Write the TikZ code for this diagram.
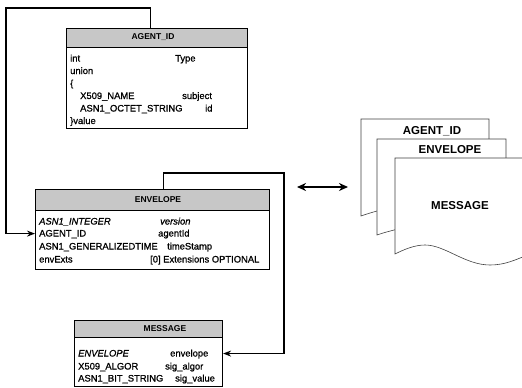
\documentclass[tikz,border=0pt]{standalone}
\usepackage{fontspec}
\setmainfont{Liberation Sans}
\newfontfamily\rowfont[FakeBold=0.9]{Liberation Sans}
\usetikzlibrary{arrows.meta,calc}
\begin{document}
\begin{tikzpicture}[x=1pt,y=-1pt,
  tbox/.style={draw, line width=1.1pt, anchor=north west, inner sep=0pt},
  thdr/.style={draw, line width=1.1pt, fill=black!22, anchor=north west, inner sep=0pt},
  htxt/.style={font=\fontsize{8.5}{9}\selectfont\bfseries, inner sep=0pt},
  row/.style={font=\fontsize{9.4}{10}\rowfont, inner sep=0pt, anchor=base west},
  conn/.style={line width=1.2pt, -{Stealth[length=8pt,width=6pt]}},
  sheet/.style={draw=black!75, line width=0.6pt, fill=white},
  stxt/.style={font=\fontsize{11.5}{12}\selectfont\bfseries, inner sep=0pt}]
\useasboundingbox (0,0) rectangle (522,388);

% ---- AGENT_ID structure ----
\node[tbox, minimum width=181pt, minimum height=100pt] (agent) at (66,28) {};
\node[thdr, minimum width=181pt, minimum height=19pt] (agenthdr) at (66,28) {};
\node[htxt] (agentttl) at (153,37.5) {AGENT\_ID};
\node[row] (a1) at (70,61.5) {int};
\node[row] (a1b) at (175,61.5) {Type};
\node[row] (a2) at (70,74) {union};
\node[row] (a3) at (70,86.5) {\{};
\node[row] (a4) at (80,99) {X509\_NAME};
\node[row] (a4b) at (182,99) {subject};
\node[row] (a5) at (80,111.5) {ASN1\_OCTET\_STRING};
\node[row] (a5b) at (205,111.5) {id};
\node[row] (a6) at (70,124) {\}value};

% ---- ENVELOPE structure ----
\node[tbox, minimum width=234pt, minimum height=80pt] (env) at (35,189) {};
\node[thdr, minimum width=234pt, minimum height=21pt] (envhdr) at (35,189) {};
\node[htxt] (envttl) at (158,199.5) {ENVELOPE};
\node[row] (e1) at (39,224.5) {\itshape ASN1\_INTEGER};
\node[row] (e1b) at (160,224.5) {\itshape version};
\node[row] (e2) at (39,236.5) {AGENT\_ID};
\node[row] (e2b) at (158,236.5) {agentId};
\node[row] (e3) at (39,249.5) {ASN1\_GENERALIZEDTIME};
\node[row] (e3b) at (167,249.5) {timeStamp};
\node[row] (e4) at (39,262.5) {envExts};
\node[row] (e4b) at (150,262.5) {[0] Extensions OPTIONAL};

% ---- MESSAGE structure ----
\node[tbox, minimum width=148pt, minimum height=66pt] (msg) at (74,320) {};
\node[thdr, minimum width=148pt, minimum height=17pt] (msghdr) at (74,320) {};
\node[htxt] (msgttl) at (165,328.5) {MESSAGE};
\node[row] (m1) at (78,356.5) {\itshape ENVELOPE};
\node[row] (m1b) at (170,356.5) {envelope};
\node[row] (m2) at (78,369.5) {X509\_ALGOR};
\node[row] (m2b) at (165,369.5) {sig\_algor};
\node[row] (m3) at (78,381.5) {ASN1\_BIT\_STRING};
\node[row] (m3b) at (175,381.5) {sig\_value};

% ---- links between the structures ----
\draw[conn] ($(agenthdr.north west)!0.464!(agenthdr.north east)$) |- (6,8)
  |- ($(env.north west)!0.55!(env.south west)$);
\draw[conn] ($(envhdr.north west)!0.547!(envhdr.north east)$) |- (284,173)
  |- (msg.east);

% ---- double arrow ----
\coordinate (dl) at (297,187);
\coordinate (dr) at (348,187);
\draw[line width=2pt, {Stealth[length=9pt,width=8pt]}-{Stealth[length=9pt,width=8pt]}] (dl) -- (dr);

% ---- stacked sheets ----
\begin{scope}
\clip (0,0) rectangle (522,388);
\draw[sheet] (361,216) -- (361,119) -- (489,119) -- (489,205)
  .. controls (460,212) and (420,196) .. (395,206)
  .. controls (385,209) and (372,212) .. cycle;
\draw[sheet] (377,235) -- (377,139) -- (506,139) -- (506,224)
  .. controls (475,232) and (440,216) .. (412,225)
  .. controls (400,229) and (388,231) .. cycle;
\draw[sheet] (395,254) -- (395,158) -- (530,158) -- (530,254)
  .. controls (515,260) and (505,265) .. (490,265)
  .. controls (465,265) and (445,245) .. (425,245)
  .. controls (415,245) and (405,249) .. cycle;
\end{scope}
\node[stxt] (s1) at (432,131) {AGENT\_ID};
\node[stxt] (s2) at (450,149.5) {ENVELOPE};
\node[stxt] (s3) at (460,206) {MESSAGE};
\end{tikzpicture}
\end{document}
